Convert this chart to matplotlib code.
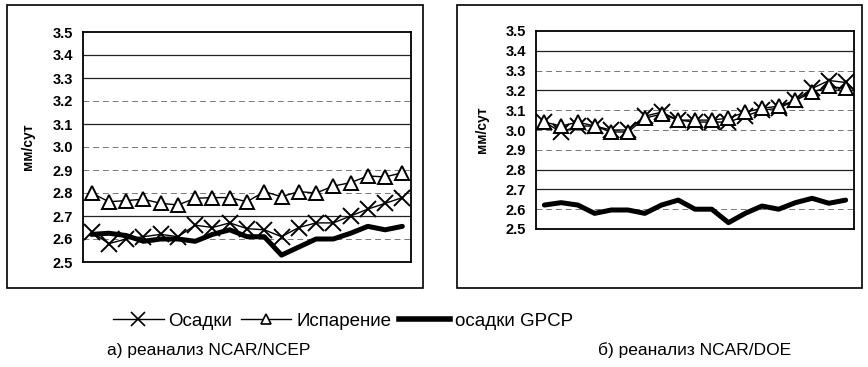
import matplotlib
matplotlib.use("Agg")
import matplotlib.pyplot as plt
from matplotlib.patches import Rectangle
from matplotlib.lines import Line2D

plt.rcParams['font.family'] = ['Liberation Sans', 'DejaVu Sans']

# values per year (19 points)
precip_ncep = [2.63, 2.58, 2.60, 2.61, 2.62, 2.61, 2.66, 2.65, 2.67, 2.645,
               2.64, 2.61, 2.65, 2.67, 2.67, 2.70, 2.73, 2.755, 2.78]
evap_ncep = [2.80, 2.762, 2.767, 2.773, 2.755, 2.748, 2.777, 2.78, 2.78, 2.762,
             2.806, 2.784, 2.806, 2.80, 2.83, 2.845, 2.874, 2.87, 2.888]
gpcp = [2.62, 2.625, 2.615, 2.59, 2.60, 2.60, 2.59, 2.62, 2.64, 2.61,
        2.61, 2.53, 2.565, 2.60, 2.60, 2.625, 2.655, 2.64, 2.655]

precip_doe = [3.04, 2.99, 3.02, 3.02, 3.00, 3.00, 3.07, 3.09, 3.05, 3.04,
              3.04, 3.04, 3.07, 3.10, 3.11, 3.15, 3.21, 3.25, 3.24]
evap_doe = [3.04, 3.02, 3.04, 3.02, 2.99, 2.99, 3.06, 3.08, 3.05, 3.05,
            3.05, 3.06, 3.09, 3.11, 3.12, 3.15, 3.19, 3.22, 3.21]
gpcp_doe = [2.621, 2.633, 2.621, 2.579, 2.596, 2.596, 2.579, 2.621, 2.646, 2.60,
            2.60, 2.532, 2.579, 2.616, 2.60, 2.633, 2.655, 2.63, 2.646]

yticks = [2.5, 2.6, 2.7, 2.8, 2.9, 3.0, 3.1, 3.2, 3.3, 3.4, 3.5]
solid_left = [3.4, 3.3, 3.1, 2.7]
solid_right = [3.4, 3.2, 2.8, 2.7]

W, H = 868, 367
fig = plt.figure(figsize=(W / 100, H / 100), dpi=100)


def frac(x0, y0, x1, y1):
    # pixel box (top-left origin) -> figure fraction rect
    return [x0 / W, 1 - y1 / H, (x1 - x0) / W, (y1 - y0) / H]


def panel(rect, precip, evap, gp, solid):
    ax = fig.add_axes(rect)
    x = list(range(len(precip)))
    for v in yticks[1:-1]:
        if v in solid:
            ax.axhline(v, color='#222222', lw=0.9, zorder=0)
        else:
            ax.axhline(v, color='#777777', lw=0.7, ls=(0, (6, 4)), zorder=0)
    ax.plot(x, gp, color='black', lw=3.6, solid_capstyle='round', zorder=2)
    ax.plot(x, precip, color='black', lw=1, marker='x', ms=11, mew=1.4, zorder=3)
    ax.plot(x, evap, color='black', lw=1, marker='^', ms=10, mew=1.4,
            mfc='white', zorder=4)
    ax.set_xlim(-0.5, len(precip) - 0.5)
    ax.set_ylim(2.5, 3.5)
    ax.set_yticks(yticks)
    ax.set_yticklabels([f'{v:.1f}' for v in yticks], fontsize=10.5, fontweight='bold')
    ax.tick_params(axis='y', length=0, pad=7)
    ax.set_xticks([])
    ax.set_ylabel('мм/сут', fontsize=10, fontweight='bold')
    ax.yaxis.set_label_coords(-0.147, 0.5)
    for s in ax.spines.values():
        s.set_linewidth(1.3)
    return ax


# outer frames
for bx in [(7, 5, 423, 288), (457, 5, 862, 288)]:
    x0, y0, x1, y1 = bx
    fig.patches.append(Rectangle((x0 / W, 1 - y1 / H), (x1 - x0) / W, (y1 - y0) / H,
                                 transform=fig.transFigure, fill=False,
                                 edgecolor='black', lw=1.2))

panel(frac(83, 32, 411, 262), precip_ncep, evap_ncep, gpcp, solid_left)
panel(frac(536, 31, 854, 229), precip_doe, evap_doe, gpcp_doe, solid_right)

handles = [
    Line2D([], [], color='black', lw=1, marker='x', ms=10, mew=1.2),
    Line2D([], [], color='black', lw=1, marker='^', ms=7, mew=1.2, mfc='white'),
    Line2D([], [], color='black', lw=4),
]
fig.legend(handles, ['Осадки', 'Испарение', 'осадки GPCP'], loc='center',
           bbox_to_anchor=(343 / W, 1 - 321 / H), ncol=3, frameon=False,
           fontsize=13.5, handlelength=2.7, handletextpad=0.25, columnspacing=0.45)

fig.text(107 / W, 1 - 350 / H, 'а) реанализ NCAR/NCEP', fontsize=12.5, va='center')
fig.text(598 / W, 1 - 350 / H, 'б) реанализ NCAR/DOE', fontsize=12.5, va='center')

fig.savefig('out.png', dpi=100)
